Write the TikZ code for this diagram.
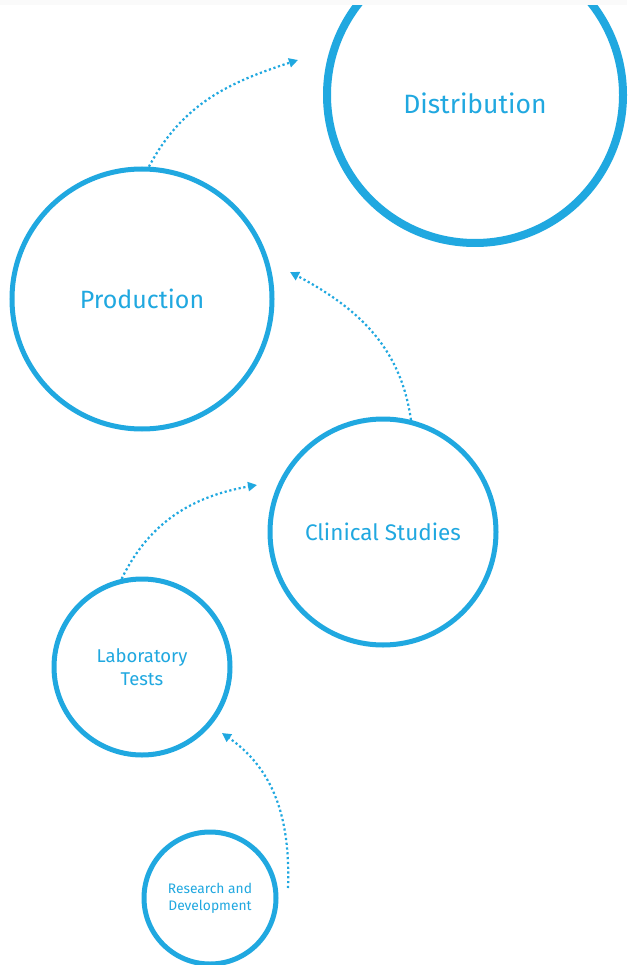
\documentclass[tikz,border=0pt]{standalone}
\usepackage{fontspec}
\setmainfont{Fira Sans}
\usetikzlibrary{arrows.meta, positioning}

\definecolor{stageblue}{RGB}{32,168,224}

\tikzset{
    stage/.style={circle, draw=stageblue, line width=5pt, inner sep=0pt,
        text=stageblue, align=center},
    stagetext/.style={text=stageblue, inner sep=0pt, align=center},
    flow/.style={stageblue, line width=2.2pt, dash pattern=on 2.2pt off 2.6pt,
        -{Triangle[length=9pt,width=9pt]}}
}

\begin{document}
\begin{tikzpicture}[x=1pt, y=1pt]
    \clip (0,0) rectangle (627,-965);
    \fill[white] (0,0) rectangle (627,-965);

    % Stages
    \node[stage, minimum size=296pt, line width=8pt] (dist) at (475,-95) {};
    \node[stagetext, font=\fontsize{26.5}{30}\selectfont]
        (distname) at ([yshift=-8pt]dist.center) {Distribution};
    \node[stage, minimum size=260pt, font=\fontsize{25}{29}\selectfont]
        (prod) at (142,-299) {Production};
    \node[stage, minimum size=226pt, font=\fontsize{22.5}{26}\selectfont]
        (clin) at (383,-532) {Clinical Studies};
    \node[stage, minimum size=176pt, font=\fontsize{18.5}{23}\selectfont]
        (lab) at (142,-667) {Laboratory\\Tests};
    \node[stage, minimum size=132pt, font=\fontsize{13.8}{17}\selectfont]
        (rnd) at (210,-898) {Research and\\Development};

    % Arrow ends
    \coordinate (toDist) at (298,-60);
    \coordinate (toProd) at (290,-272);
    \coordinate (toClin) at (257,-485);
    \coordinate (toLab) at (222,-733);
    \coordinate (fromRnd) at (288,-888);

    % Flow between stages
    \draw[flow] (prod.87) to[out=62, in=198] (toDist);
    \draw[flow] (clin.76) to[out=98, in=-28] (toProd);
    \draw[flow] (lab.103) to[out=64, in=190] (toClin);
    \draw[flow] (fromRnd) to[out=88, in=-35] (toLab);

    % Top strip
    \fill[black!2] (0,0) rectangle (627,-5);
\end{tikzpicture}
\end{document}
